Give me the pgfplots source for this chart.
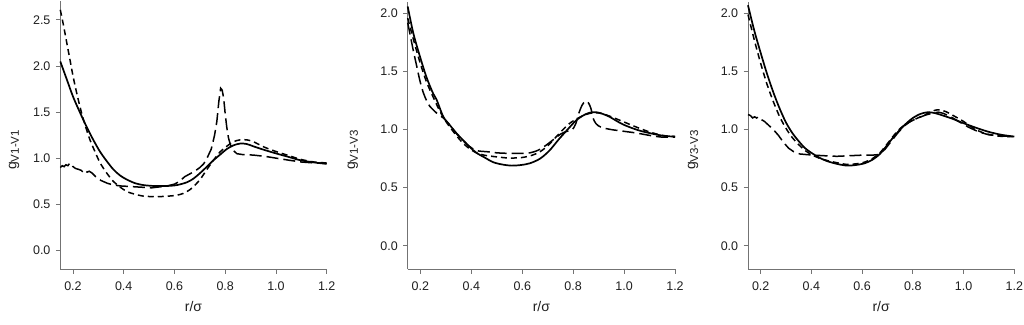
\documentclass[border=0pt]{standalone}
\usepackage{pgfplots}
\pgfplotsset{compat=1.18}
\usepackage{fontspec}
\setmainfont{Liberation Sans}
\begin{document}
\fontsize{12.5}{14}\selectfont
\begin{tikzpicture}
\useasboundingbox (0pt,0pt) rectangle (1024pt,324pt);
\pgfplotsset{
  rstyle/.style={
    scale only axis,
    anchor=south west,
    axis x line*=bottom,
    axis y line*=left,
    axis line style={draw=black!55, line width=0.9pt},
    tick style={draw=black!55, line width=0.9pt},
    major tick length=4.5pt,
    tick align=outside,
    xmin=0.15, xmax=1.2, ymin=-0.2,
    xtick={0.2,0.4,0.6,0.8,1.0,1.2},
    ytick={0,0.5,1.0,1.5,2.0,2.5},
    /pgf/number format/assume math mode=true,
    /pgf/number format/.cd, fixed, fixed zerofill, precision=1, /pgfplots/.cd,
    ticklabel style={font=\fontsize{12.5}{14}\selectfont, text=black!88},
    xticklabel style={yshift=-4pt},
    yticklabel style={xshift=-1pt},
    label style={font=\fontsize{14}{16}\selectfont, text=black!88},
    xlabel={r/σ},
    xlabel style={at={(axis description cs:0.5,0)}, anchor=center, yshift=-37pt},
    clip=false,
  },
  sol/.style={black, line width=1.7pt, smooth},
  sd/.style={black, line width=1.5pt, dash pattern=on 6pt off 4pt, smooth},
  ld/.style={black, line width=1.5pt, dash pattern=on 12pt off 5pt, smooth},
}
% ---------------- Panel 1 ----------------
\begin{axis}[rstyle, at={(60.3pt,55pt)}, width=266.4pt, height=267.5pt, ymax=2.7,
  ylabel={g\raisebox{-0.35ex}{\fontsize{11.5}{13}\selectfont V1-V1}},
  ylabel style={at={(axis description cs:-0.174,0.445)}, anchor=center, rotate=0}]
\addplot[sol] coordinates {
(0.15,2.05) (0.175,1.86) (0.2,1.67) (0.227,1.50) (0.254,1.34) (0.28,1.20) (0.307,1.07)
(0.333,0.97) (0.359,0.88) (0.385,0.815) (0.412,0.77) (0.445,0.73) (0.477,0.71) (0.52,0.70)
(0.57,0.70) (0.61,0.71) (0.649,0.74) (0.675,0.78) (0.701,0.84) (0.728,0.91) (0.754,0.98)
(0.78,1.04) (0.806,1.10) (0.832,1.14) (0.859,1.16) (0.885,1.155) (0.911,1.13) (0.955,1.09)
(1.004,1.05) (1.05,1.015) (1.095,0.98) (1.15,0.955) (1.2,0.94)};
\addplot[sd] coordinates {
(0.15,2.61) (0.162,2.45) (0.175,2.26) (0.188,2.07) (0.201,1.88) (0.217,1.68) (0.234,1.49)
(0.25,1.34) (0.267,1.20) (0.287,1.07) (0.307,0.95) (0.333,0.84) (0.359,0.75) (0.385,0.69)
(0.412,0.64) (0.445,0.61) (0.477,0.59) (0.51,0.585) (0.543,0.585) (0.576,0.59) (0.609,0.60)
(0.635,0.62) (0.661,0.66) (0.681,0.71) (0.701,0.77) (0.728,0.88) (0.754,0.98) (0.78,1.07)
(0.806,1.13) (0.832,1.18) (0.859,1.20) (0.885,1.20) (0.911,1.18) (0.955,1.12) (1.004,1.07)
(1.05,1.03) (1.095,0.99) (1.15,0.96) (1.2,0.95)};
\addplot[ld, sharp plot] coordinates {
(0.15,0.90) (0.158,0.92) (0.165,0.91) (0.172,0.93) (0.18,0.92) (0.188,0.95) (0.195,0.93)
(0.2,0.91) (0.21,0.89) (0.222,0.88) (0.232,0.87) (0.24,0.85) (0.248,0.87) (0.256,0.85)
(0.264,0.86) (0.275,0.84) (0.29,0.80) (0.31,0.76) (0.335,0.73) (0.36,0.71) (0.39,0.70)
(0.42,0.695) (0.45,0.69) (0.48,0.685) (0.51,0.68) (0.54,0.69) (0.57,0.70) (0.6,0.72)
(0.62,0.75) (0.64,0.80) (0.66,0.83) (0.68,0.86) (0.70,0.90) (0.715,0.94) (0.728,1.00)
(0.745,1.10) (0.758,1.25) (0.767,1.40) (0.775,1.62) (0.782,1.76) (0.788,1.74) (0.794,1.65)
(0.8,1.48) (0.806,1.34) (0.813,1.22) (0.82,1.15) (0.83,1.09) (0.846,1.05) (0.87,1.04)
(0.911,1.035) (0.96,1.02) (1.004,1.00) (1.05,0.98) (1.1,0.96) (1.15,0.95) (1.2,0.945)};
\end{axis}
% ---------------- Panel 2 ----------------
\begin{axis}[rstyle, at={(407.7pt,55pt)}, width=267.3pt, height=267.2pt, ymax=2.1,
  ytick={0,0.5,1.0,1.5,2.0},
  ylabel={g\raisebox{-0.35ex}{\fontsize{11.5}{13}\selectfont V1-V3}},
  ylabel style={at={(axis description cs:-0.205,0.445)}, anchor=center, rotate=0}]
\addplot[sol] coordinates {
(0.15,2.06) (0.172,1.83) (0.198,1.63) (0.224,1.45) (0.25,1.31) (0.263,1.26) (0.29,1.11)
(0.315,1.04) (0.341,0.97) (0.367,0.91) (0.394,0.85) (0.42,0.80) (0.452,0.76) (0.485,0.72)
(0.52,0.70) (0.557,0.69) (0.595,0.695) (0.63,0.71) (0.67,0.75) (0.707,0.82) (0.745,0.92)
(0.786,1.02) (0.812,1.08) (0.838,1.12) (0.864,1.145) (0.89,1.15) (0.916,1.135) (0.943,1.11)
(0.97,1.075) (1.0,1.04) (1.055,0.995) (1.11,0.965) (1.16,0.945) (1.2,0.94)};
\addplot[sd] coordinates {
(0.15,1.96) (0.172,1.78) (0.198,1.58) (0.224,1.41) (0.25,1.28) (0.276,1.16) (0.3,1.07)
(0.33,0.98) (0.36,0.90) (0.39,0.84) (0.42,0.80) (0.45,0.78) (0.5,0.765) (0.55,0.755)
(0.6,0.76) (0.64,0.78) (0.67,0.81) (0.7,0.86) (0.73,0.93) (0.76,1.00) (0.79,1.06)
(0.82,1.10) (0.85,1.13) (0.88,1.145) (0.91,1.14) (0.95,1.11) (1.0,1.065) (1.05,1.02)
(1.1,0.98) (1.15,0.95) (1.2,0.94)};
\addplot[ld] coordinates {
(0.15,1.92) (0.161,1.80) (0.172,1.68) (0.185,1.55) (0.198,1.42) (0.211,1.32) (0.224,1.25)
(0.237,1.20) (0.25,1.17) (0.27,1.13) (0.29,1.10) (0.315,1.04) (0.34,0.97) (0.365,0.91)
(0.39,0.86) (0.41,0.83) (0.43,0.815) (0.46,0.81) (0.5,0.80) (0.55,0.795) (0.6,0.795)
(0.63,0.80) (0.66,0.82) (0.69,0.86) (0.72,0.91) (0.75,0.96) (0.775,0.985) (0.795,0.995)
(0.81,1.05) (0.822,1.14) (0.835,1.21) (0.848,1.245) (0.86,1.23) (0.87,1.18) (0.878,1.10)
(0.89,1.05) (0.91,1.02) (0.95,1.00) (1.0,0.985) (1.05,0.97) (1.1,0.95) (1.15,0.935) (1.2,0.935)};
\end{axis}
% ---------------- Panel 3 ----------------
\begin{axis}[rstyle, at={(748pt,55pt)}, width=266.3pt, height=267.2pt, ymax=2.1,
  ytick={0,0.5,1.0,1.5,2.0},
  ylabel={g\raisebox{-0.35ex}{\fontsize{11.5}{13}\selectfont V3-V3}},
  ylabel style={at={(axis description cs:-0.206,0.445)}, anchor=center, rotate=0}]
\addplot[sol] coordinates {
(0.15,2.07) (0.175,1.85) (0.2,1.66) (0.225,1.48) (0.25,1.32) (0.275,1.18) (0.3,1.06)
(0.325,0.97) (0.35,0.90) (0.375,0.84) (0.4,0.80) (0.43,0.76) (0.46,0.73) (0.5,0.705)
(0.54,0.69) (0.575,0.695) (0.61,0.71) (0.64,0.74) (0.67,0.79) (0.7,0.87) (0.725,0.94)
(0.75,1.00) (0.775,1.055) (0.8,1.10) (0.83,1.135) (0.86,1.15) (0.89,1.14) (0.92,1.12)
(0.96,1.09) (1.0,1.055) (1.05,1.015) (1.1,0.98) (1.15,0.955) (1.2,0.94)};
\addplot[sd] coordinates {
(0.15,1.99) (0.175,1.77) (0.2,1.57) (0.225,1.39) (0.25,1.24) (0.275,1.11) (0.3,1.01)
(0.325,0.93) (0.35,0.87) (0.375,0.82) (0.4,0.785) (0.43,0.755) (0.46,0.735) (0.5,0.715)
(0.54,0.70) (0.575,0.705) (0.61,0.72) (0.64,0.75) (0.67,0.80) (0.7,0.88) (0.725,0.95)
(0.75,1.01) (0.775,1.05) (0.8,1.08) (0.83,1.11) (0.86,1.14) (0.885,1.165) (0.905,1.17)
(0.93,1.155) (0.96,1.12) (1.0,1.07) (1.04,1.01) (1.08,0.97) (1.12,0.95) (1.16,0.94) (1.2,0.94)};
\addplot[ld, sharp plot] coordinates {
(0.15,1.13) (0.16,1.12) (0.168,1.10) (0.176,1.11) (0.184,1.10) (0.192,1.11) (0.2,1.09)
(0.215,1.07) (0.23,1.04) (0.25,1.00) (0.27,0.95) (0.29,0.89) (0.31,0.84) (0.33,0.81)
(0.355,0.79) (0.38,0.785) (0.41,0.78) (0.45,0.775) (0.5,0.77) (0.55,0.775) (0.6,0.78)
(0.64,0.78) (0.665,0.785) (0.69,0.83) (0.715,0.90) (0.74,0.97) (0.765,1.03) (0.79,1.07)
(0.82,1.10) (0.85,1.125) (0.875,1.14) (0.9,1.15) (0.92,1.14) (0.95,1.11) (0.98,1.07)
(1.02,1.02) (1.06,0.98) (1.1,0.955) (1.15,0.945) (1.2,0.94)};
\end{axis}
\end{tikzpicture}
\end{document}
